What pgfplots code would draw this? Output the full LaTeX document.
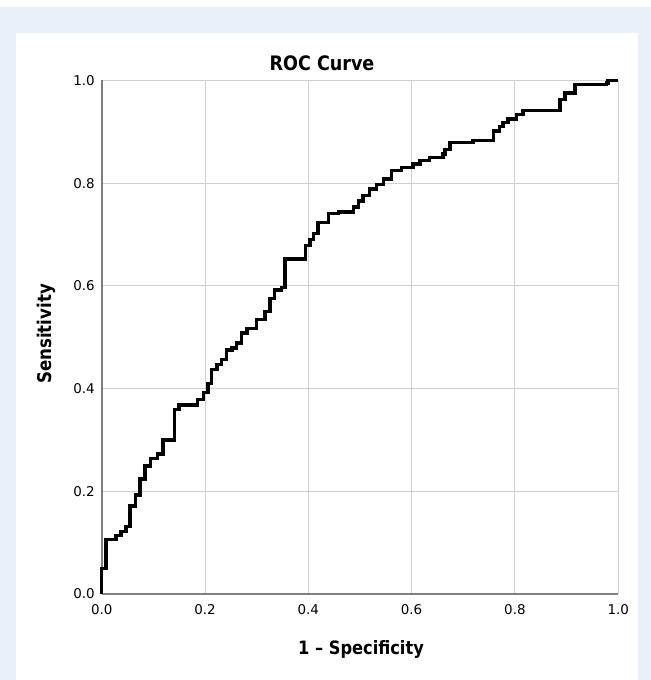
\documentclass[border=0pt]{standalone}
\usepackage{fontspec}
\usepackage{pgfplots}
\pgfplotsset{compat=1.18}
\setmainfont{DejaVu Sans}
\newfontfamily\tickfont{DejaVu Sans}
\newfontfamily\labfont{DejaVu Sans}[FakeStretch=0.88]
\definecolor{pagebg}{RGB}{232,240,250}
\definecolor{gridgray}{RGB}{208,208,208}
\definecolor{axgray}{RGB}{128,128,128}

\begin{document}
\begin{tikzpicture}[x=1bp,y=1bp]
\useasboundingbox (0,0) rectangle (651,680);
\fill[white] (0,0) rectangle (651,680);
\fill[pagebg] (0,0) rectangle (651,673.3);
\fill[white] (15.7,0) rectangle (637.7,646.7);

\begin{axis}[
    at={(101.7bp,86bp)}, anchor=south west,
    scale only axis,
    width=516.5bp, height=513.5bp,
    xmin=0, xmax=1, ymin=0, ymax=1,
    xtick={0,0.2,...,1}, ytick={0,0.2,...,1},
    axis x line*=bottom, axis y line*=left,
    axis line style={draw=axgray, line width=1.8bp},
    major tick length=0pt,
    grid=major,
    major grid style={draw=gridgray, line width=0.9bp},
    /pgf/number format/.cd, fixed, fixed zerofill, precision=1, assume math mode=true,
    /pgfplots/.cd,
    ticklabel style={font=\tickfont\fontsize{13.5}{13.5}\selectfont, text=black},
    xticklabel style={anchor=base, yshift=-20.3bp},
    yticklabel style={anchor=east, inner sep=0pt, xshift=-6.7bp},
    clip=false,
]
\addplot[black, line width=3.4bp, const plot mark left, line join=miter] coordinates {
(0,0) (0,0.05) (0.008,0.106) (0.028,0.114) (0.037,0.122) (0.047,0.132)
(0.055,0.171) (0.065,0.193) (0.074,0.224) (0.084,0.249) (0.094,0.264)
(0.108,0.273) (0.119,0.300) (0.141,0.359) (0.150,0.368) (0.186,0.379)
(0.197,0.392) (0.206,0.410) (0.213,0.437) (0.223,0.447) (0.232,0.457)
(0.242,0.475) (0.252,0.479) (0.261,0.489) (0.271,0.508) (0.281,0.517)
(0.300,0.534) (0.316,0.550) (0.326,0.576) (0.335,0.592) (0.348,0.597)
(0.355,0.652) (0.394,0.679) (0.403,0.690) (0.410,0.702) (0.419,0.723)
(0.439,0.741) (0.458,0.744) (0.487,0.754) (0.497,0.765) (0.506,0.776)
(0.519,0.789) (0.532,0.797) (0.545,0.808) (0.561,0.825) (0.581,0.830)
(0.603,0.837) (0.616,0.844) (0.635,0.850) (0.661,0.857) (0.665,0.866)
(0.674,0.879) (0.719,0.883) (0.758,0.889) (0.758,0.902) (0.770,0.910)
(0.777,0.918) (0.787,0.925) (0.803,0.934) (0.816,0.941) (0.887,0.963)
(0.897,0.976) (0.916,0.992) (0.977,0.995) (0.980,1.000) (1.000,1.000)
};
\end{axis}

\node[anchor=base, inner sep=0pt, font=\labfont\bfseries\fontsize{20}{20}\selectfont] at (322,609.3) {ROC Curve};
\node[anchor=base, inner sep=0pt, font=\labfont\bfseries\fontsize{18.5}{18.5}\selectfont] at (361,25.7) {1 – Specificity};
\node[rotate=90, anchor=center, inner sep=0pt, font=\labfont\bfseries\fontsize{19}{19}\selectfont] at (46,346) {Sensitivity};
\end{tikzpicture}
\end{document}
